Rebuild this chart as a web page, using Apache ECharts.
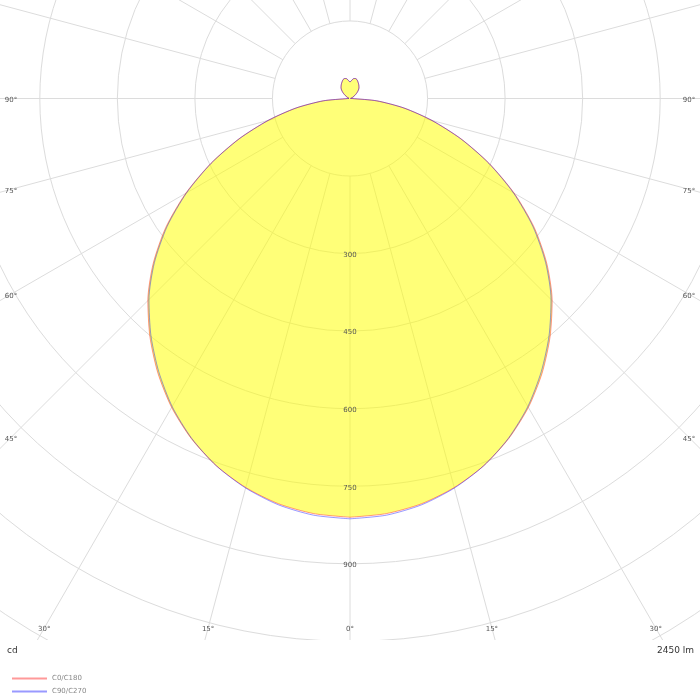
<!DOCTYPE html>
<html>
<head>
<meta charset="utf-8">
<script src="https://cdn.jsdelivr.net/npm/echarts@6/dist/echarts.min.js"></script>
<style>
  html, body { margin: 0; padding: 0; background: #fff; }
  #main { width: 700px; height: 700px; }
</style>
</head>
<body>
<div id="main"></div>
<script>
// gamma angles (deg from nadir) and intensities in cd, one half-plane each
const gammaDeg = [0, 5, 10, 15, 20, 25, 30, 35, 40, 45, 50, 55, 60, 65, 70, 75, 80, 85, 90,
  95, 100, 105, 110, 115, 120, 125, 130, 135, 140, 145, 150, 155, 160, 165, 170, 175, 180];
const c0c180 = [810, 806, 796, 779, 756, 726, 690, 648, 602, 553, 497, 435, 367, 297, 229, 164, 106, 52, 4,
  2, 1, 2, 3, 6, 9, 13, 18, 23, 27, 30, 33, 36, 39, 40, 39, 35, 32];
const c90c270 = [813, 809, 798, 780, 756, 725, 688, 645, 599, 550, 494, 432, 365, 296, 228, 164, 106, 52, 4,
  2, 1, 2, 3, 6, 9, 13, 18, 23, 27, 30, 33, 36, 39, 40, 39, 35, 32];

const planeNames = ['C0/C180', 'C90/C270'];
const radiusLabels = [300, 450, 600, 750, 900];
const angleLabels = [0, 15, 30, 45, 60, 75, 90];
const fluxText = '2450 lm';
const unitText = 'cd';

const rMax = 1350;
const rStep = 150;
const pxPerCd = 0.517;
const center = [350, 98.5];
const outerPx = rMax * pxPerCd;

// one half plane on each side of the nadir line
function planeData(vals) {
  let out = [];
  for (let i = 0; i < gammaDeg.length; i++) out.push([vals[i], gammaDeg[i]]);
  for (let i = gammaDeg.length - 1; i >= 0; i--) out.push([vals[i], 360 - gammaDeg[i]]);
  return out;
}

var myChart = echarts.init(document.getElementById('main'));

const hiddenAxis = {
  axisLine: { show: false },
  axisTick: { show: false },
  axisLabel: { show: false }
};
const gridLine = { show: true, lineStyle: { color: '#dcdcdc', width: 1 } };

let option = {
  animation: false,
  backgroundColor: '#fff',
  polar: [
    { center: center, radius: [rStep * pxPerCd, outerPx] },
    { center: center, radius: [0, outerPx] }
  ],
  angleAxis: [
    Object.assign({ polarIndex: 0, type: 'value', min: 0, max: 360, interval: 15, startAngle: 270, splitLine: gridLine }, hiddenAxis),
    Object.assign({ polarIndex: 1, type: 'value', min: 0, max: 360, startAngle: 270, splitLine: { show: false } }, hiddenAxis)
  ],
  radiusAxis: [
    Object.assign({ polarIndex: 0, type: 'value', min: rStep, max: rMax, interval: rStep, splitLine: gridLine }, hiddenAxis),
    Object.assign({ polarIndex: 1, type: 'value', min: 0, max: rMax, splitLine: { show: false } }, hiddenAxis)
  ],
  legend: {
    orient: 'vertical',
    left: 7,
    top: 670,
    icon: 'rect',
    itemWidth: 35,
    itemHeight: 2,
    itemGap: 6,
    z: 20,
    textStyle: { fontFamily: 'DejaVu Sans', fontSize: 7, color: '#888' },
    data: planeNames
  },
  series: [{
    name: planeNames[0],
    type: 'line',
    coordinateSystem: 'polar',
    polarIndex: 1,
    symbol: 'none',
    smooth: 0.25,
    data: planeData(c0c180),
    lineStyle: { color: 'rgba(255,0,0,0.4)', width: 1 },
    itemStyle: { color: 'rgba(255,0,0,0.4)' },
    areaStyle: { color: '#ffff00', opacity: 0.53 },
    z: 2
  }, {
    name: planeNames[1],
    type: 'line',
    coordinateSystem: 'polar',
    polarIndex: 1,
    symbol: 'none',
    smooth: 0.25,
    data: planeData(c90c270),
    lineStyle: { color: 'rgba(0,0,255,0.4)', width: 1 },
    itemStyle: { color: 'rgba(0,0,255,0.4)' },
    z: 3
  }]
};

myChart.setOption(option);

// labels placed where the grid meets the frame
const frameLeft = 11, frameRight = 689, frameBottom = 628, clipY = 640;
const labelStyle = { fontFamily: 'DejaVu Sans', fontSize: 7, fill: '#555', align: 'center', verticalAlign: 'middle' };

function toPx(r, a) {
  return myChart.convertToPixel({ polarIndex: 1 }, [r, a]);
}

let graphics = [{
  type: 'rect', z: 10, silent: true,
  shape: { x: 0, y: clipY, width: 700, height: 700 - clipY },
  style: { fill: '#fff' }
}];

radiusLabels.forEach(function (v) {
  let p = toPx(v, 0);
  graphics.push({ type: 'text', z: 20, x: p[0], y: p[1] + 1.5, style: Object.assign({ text: String(v) }, labelStyle) });
});

let c = toPx(0, 0);
angleLabels.forEach(function (a) {
  [a, 360 - a].forEach(function (ang, side) {
    if (side == 1 && a == 0) return;
    let p = toPx(1000, ang);
    let dx = p[0] - c[0], dy = p[1] - c[1];
    let edgeX = dx < 0 ? frameLeft : frameRight;
    let tx = Math.abs(dx) > 1e-6 ? (edgeX - c[0]) / dx : Infinity;
    let ty = dy > 1e-6 ? (frameBottom - c[1]) / dy : Infinity;
    let t = Math.min(tx, ty);
    graphics.push({ type: 'text', z: 20, x: c[0] + t * dx, y: c[1] + t * dy + 1.5, style: Object.assign({ text: a + '°' }, labelStyle) });
  });
});

graphics.push({
  type: 'text', z: 20, x: 7, y: 651,
  style: { text: unitText, fontFamily: 'DejaVu Sans', fontSize: 9, fill: '#333', align: 'left', verticalAlign: 'middle' }
});
graphics.push({
  type: 'text', z: 20, x: 694, y: 651,
  style: { text: fluxText, fontFamily: 'DejaVu Sans', fontSize: 9, fill: '#333', align: 'right', verticalAlign: 'middle' }
});

myChart.setOption({ graphic: graphics });
</script>
</body>
</html>
